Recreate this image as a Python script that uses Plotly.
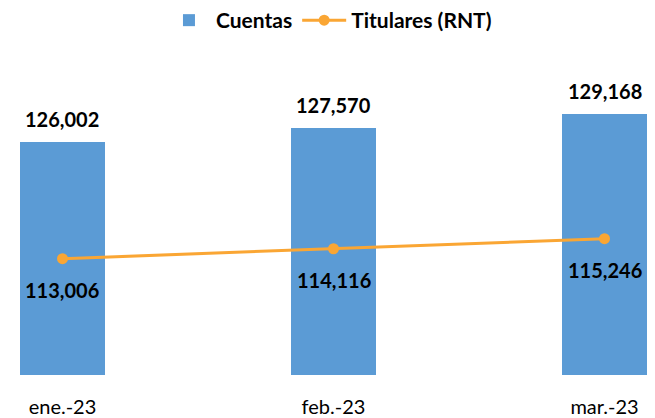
import plotly.graph_objects as go

categories = ["ene.-23", "feb.-23", "mar.-23"]
cuentas = [126002, 127570, 129168]
titulares = [113006, 114116, 115246]

bar_color = "#5B9BD5"
line_color = "#FAA634"
font_family = "Lato, 'Open Sans', sans-serif"

fig = go.Figure()
fig.add_trace(go.Bar(
    x=categories, y=cuentas, name="Cuentas",
    marker=dict(color=bar_color, line=dict(width=0)),
    width=0.3137,
))
fig.add_trace(go.Scatter(
    x=categories, y=titulares, name="Titulares (RNT)",
    mode="lines+markers",
    line=dict(color=line_color, width=3),
    marker=dict(color=line_color, size=11),
))

for c, v in zip(categories, cuentas):
    fig.add_annotation(x=c, y=v, text=f"{v:,}", showarrow=False,
                       yanchor="middle", yshift=23,
                       font=dict(family=font_family, size=20, color="#000000", weight="bold"))
for c, v in zip(categories, titulares):
    fig.add_annotation(x=c, y=v, text=f"{v:,}", showarrow=False,
                       yanchor="middle", yshift=-31,
                       font=dict(family=font_family, size=20, color="#000000", weight="bold"))

fig.update_layout(
    width=655, height=418,
    margin=dict(l=0, r=0, t=61, b=43),
    paper_bgcolor="white", plot_bgcolor="white",
    font=dict(family=font_family, size=20, color="#000000"),
    showlegend=True,
    legend=dict(orientation="h", x=0.503, xanchor="center", y=1.134, yanchor="middle",
                font=dict(family=font_family, size=21, color="#000000", weight="bold"),
                itemwidth=44, traceorder="normal", bgcolor="rgba(0,0,0,0)"),
    xaxis=dict(type="category", range=[-0.2306, 2.1863], showgrid=False, zeroline=False,
               showline=False, ticks="outside", ticklen=14, tickcolor="rgba(0,0,0,0)",
               tickfont=dict(family=font_family, size=20, color="#000000")),
    yaxis=dict(range=[100000, 135000], visible=False, showgrid=False, zeroline=False),
    bargap=0,
)

fig.write_html("out.html", config={"displayModeBar": False},
               post_script="document.body.style.margin='0';")
